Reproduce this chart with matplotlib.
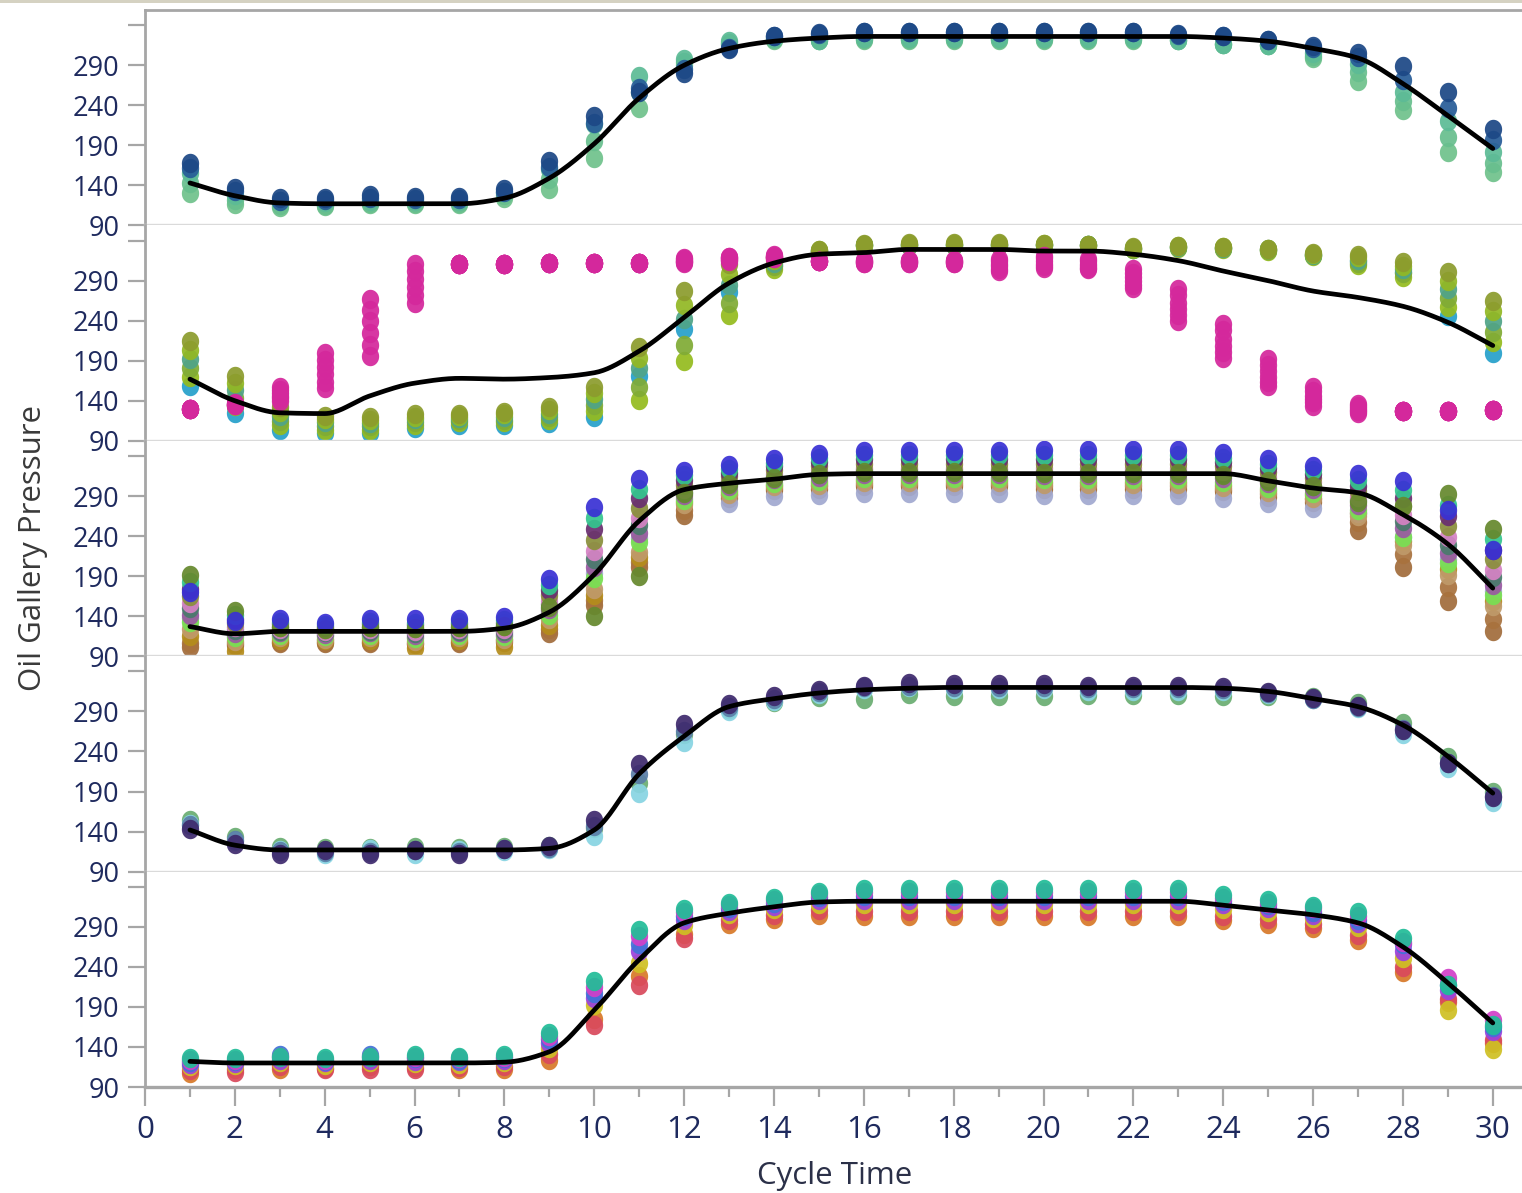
import numpy as np
import matplotlib
matplotlib.use('Agg')
import matplotlib.pyplot as plt
from matplotlib.ticker import FixedLocator
from matplotlib.patches import Rectangle
from matplotlib.path import Path

# ---------------- data ----------------
CYCLE_TIME = list(range(1, 31))
Y_TICKS = [90, 140, 190, 240, 290, 340]
Y_TICK_LABELS = ['90', '140', '190', '240', '290', '']
X_TICKS = list(range(0, 31, 2))
X_MINOR = list(range(1, 31, 2))
X_LABEL = 'Cycle Time'
Y_LABEL = 'Oil Gallery Pressure'

# panel 1
P1_NAVY_A = [168,137,124,124,128,126,126,136,170,227,257,280,310,327,330,332,332,332,332,332,332,332,329,327,322,314,305,289,257,211]
P1_NAVY_B = [162,133,121,122,124,123,123,132,163,218,262,285,312,326,329,331,331,331,331,331,331,331,328,326,321,312,300,272,237,197]
P1_GREEN_A = [155,128,120,119,120,120,120,132,161,217,277,298,320,324,322,324,324,324,324,324,324,324,322,317,315,305,292,257,220,182]
P1_GREEN_B = [143,122,116,116,118,118,118,128,148,195,256,294,318,323,322,323,323,323,323,323,323,323,322,317,315,302,281,245,200,168]
P1_GREEN_C = [131,117,113,114,117,117,117,124,136,174,236,290,316,322,322,322,322,322,322,322,322,322,322,317,315,299,270,234,182,157]
P1_FIT = [143,127,118,117,117,117,117,124,149,192,249,290,311,320,324,326,326,326,326,326,326,326,326,324,320,311,299,267,227,186]

# panel 2
P2_PINK_A = [130,137,157,200,267,311,311,311,312,312,312,318,320,322,314,316,316,316,317,321,317,305,280,236,192,157,136,127,127,128]
P2_PINK_B = [130,136,154,191,253,302,311,311,312,312,312,317,319,321,314,315,315,315,314,318,314,300,272,228,185,152,134,127,127,128]
P2_PINK_C = [130,136,150,182,239,292,311,311,312,312,312,315,318,320,314,314,314,314,311,314,311,294,262,217,177,146,131,127,127,128]
P2_PINK_D = [130,135,146,174,225,282,311,311,312,312,312,314,317,319,314,313,313,313,308,311,308,289,255,208,170,142,129,127,127,128]
P2_PINK_E = [130,135,143,164,210,272,311,311,312,312,312,313,316,318,314,312,312,312,305,308,306,285,247,201,164,138,127,127,127,128]
P2_PINK_F = [130,135,140,156,196,262,311,311,312,312,312,312,315,318,314,312,312,312,302,306,304,281,240,194,159,134,125,127,127,128]
P2_OLIVE = [215,171,132,121,120,124,124,126,132,157,207,277,311,320,328,336,337,337,337,336,335,332,333,332,330,324,322,313,301,265]
P2_LIME = [204,162,126,117,116,120,121,123,128,150,194,260,298,316,328,335,336,336,336,336,335,331,333,332,329,323,319,308,290,252]
P2_TEAL = [192,153,121,113,112,117,118,120,124,142,181,242,285,312,327,335,335,335,335,335,334,331,332,331,329,322,316,304,279,239]
P2_YELLOWGREEN = [181,143,115,108,108,113,116,116,120,135,157,210,262,308,327,334,335,335,335,335,334,330,332,331,328,322,312,299,268,226]
P2_BLUE = [158,125,104,100,100,106,110,110,112,120,171,229,276,310,327,334,335,335,335,335,334,330,332,331,328,322,314,301,246,200]
P2_LIME_B = [170,134,110,104,104,110,113,113,116,127,141,190,247,304,326,333,334,334,334,334,333,329,331,330,327,321,309,295,257,213]
P2_FIT = [167,140,125,124,146,162,168,167,169,175,202,244,287,312,323,325,329,329,329,327,327,323,315,302,290,277,269,258,238,209]

# panel 3
P3_BLUE = [170,134,136,132,136,136,136,139,186,276,311,321,329,336,342,346,346,346,346,347,347,347,347,344,336,328,317,309,272,223]
P3_OLIVE_GREEN = [192,146,127,124,127,125,127,128,152,140,190,294,305,313,317,320,320,320,320,319,319,319,319,316,309,302,282,277,292,249]
P3_TEAL = [183,141,133,129,133,132,133,135,179,262,299,316,324,331,337,341,341,341,341,341,341,341,341,338,330,323,310,298,279,236]
P3_PURPLE = [174,136,130,127,130,129,130,132,173,249,287,310,319,327,332,336,336,336,336,336,336,336,336,333,325,317,303,288,265,223]
P3_OLIVE = [165,131,127,124,127,125,127,128,166,235,275,304,315,322,327,330,330,330,330,330,330,330,330,327,320,312,296,277,252,211]
P3_PINK = [156,126,124,122,124,122,124,124,159,222,263,299,310,318,322,325,325,325,325,325,325,325,325,321,314,307,289,266,239,198]
P3_DARK_TEAL = [150,123,122,120,122,119,122,122,155,212,254,295,306,314,318,322,322,322,322,321,321,321,321,317,310,303,285,259,229,189]
P3_MAUVE = [142,119,120,118,120,116,120,119,149,201,244,291,303,311,314,317,317,317,317,316,316,316,316,313,306,299,279,250,219,179]
P3_LIME = [133,114,117,115,117,113,117,115,142,188,232,285,298,306,309,312,312,312,312,311,311,311,311,307,300,294,272,239,206,166]
P3_TAN = [124,109,114,112,114,109,114,111,136,174,220,280,293,302,304,307,307,307,307,305,305,305,305,301,295,288,265,229,192,153]
P3_LAVENDER = [138,117,118,116,118,114,118,117,146,194,238,288,281,290,291,294,294,294,294,291,291,291,291,287,281,275,269,239,212,172]
P3_BROWN = [102,104,106,106,106,105,106,108,119,154,202,266,288,297,299,302,302,302,302,299,299,299,299,296,289,283,248,202,159,121]
P3_BROWN_B = [106,106,108,108,108,107,108,110,124,160,208,272,291,300,302,305,305,305,305,302,302,302,302,299,292,286,258,218,176,137]
P3_GOLD = [115,97,110,110,110,100,110,102,129,167,214,282,295,304,306,310,310,310,310,308,308,308,308,304,297,291,269,234,199,159]
P3_FIT = [127,118,121,121,121,121,121,125,145,192,259,298,306,311,317,318,318,318,318,318,318,318,318,318,309,300,294,267,230,175]

# panel 4
P4_PURPLE = [143,124,112,117,112,117,112,118,122,155,224,274,299,309,317,322,326,324,324,324,322,322,322,321,314,307,297,267,225,183]
P4_SLATE = [148,129,116,115,115,117,115,118,120,147,212,266,296,306,314,320,322,321,321,321,319,319,319,318,313,306,296,268,226,184]
P4_CYAN = [150,128,117,112,118,112,117,116,118,135,188,252,290,303,312,318,320,318,318,318,316,316,316,315,312,305,294,262,219,177]
P4_GREEN = [155,133,121,119,120,121,120,121,122,145,201,262,293,302,308,306,312,309,309,309,310,310,310,309,309,308,300,275,233,190]
P4_FIT = [142,123,117,117,117,117,117,117,119,142,212,259,296,306,313,317,319,320,320,320,320,320,320,319,315,306,296,273,234,188]

# panel 5
P5_TEAL = [126,126,127,126,127,130,128,130,158,222,286,312,320,326,334,337,337,337,337,337,337,337,337,330,324,316,308,276,218,167]
P5_MAGENTA = [124,124,128,124,128,128,126,128,154,215,278,308,317,323,331,333,333,333,333,333,333,333,333,326,320,313,304,271,226,174]
P5_BLUE = [121,122,130,122,130,126,124,126,150,208,269,303,314,320,327,329,329,329,329,329,329,329,329,322,317,309,299,268,217,165]
P5_PURPLE = [119,120,124,121,124,123,122,124,145,201,260,298,310,316,323,324,324,324,324,324,324,324,324,318,313,305,295,260,211,160]
P5_YELLOW = [116,117,121,118,121,120,119,121,139,192,245,292,306,312,318,318,318,318,318,318,318,318,318,312,308,301,290,251,186,138]
P5_RED = [111,109,116,112,113,112,115,116,131,167,217,276,299,305,311,310,310,310,310,310,310,310,310,304,300,294,280,240,200,149]
P5_ORANGE = [107,112,113,114,116,115,112,113,124,175,229,281,294,300,305,303,303,303,303,303,303,303,303,298,294,288,273,234,196,145]
P5_FIT = [122,120,120,120,120,120,120,121,134,186,249,295,307,315,321,322,322,322,322,322,322,322,322,317,311,305,295,265,220,170]

PANEL_SERIES = [
    [(P1_GREEN_C, '#70c28c'), (P1_GREEN_B, '#68bf8e'), (P1_GREEN_A, '#5dbb96'),
     (P1_NAVY_B, '#285d98'), (P1_NAVY_A, '#1d4886')],
    [(P2_BLUE, '#27a0cb'), (P2_LIME_B, '#95bb1f'), (P2_YELLOWGREEN, '#80ab36'),
     (P2_TEAL, '#50a488'), (P2_LIME, '#92b824'), (P2_OLIVE, '#8c9c2e'),
     (P2_PINK_F, '#d4289c'), (P2_PINK_E, '#d4289c'), (P2_PINK_D, '#d4289c'),
     (P2_PINK_C, '#d4289c'), (P2_PINK_B, '#d4289c'), (P2_PINK_A, '#d4289c')],
    [(P3_BROWN, '#a26d3c'), (P3_BROWN_B, '#a8723e'), (P3_GOLD, '#b48c1c'),
     (P3_LAVENDER, '#a2a9d0'), (P3_TAN, '#bf9a6a'), (P3_LIME, '#78e052'),
     (P3_MAUVE, '#9a5aa2'), (P3_DARK_TEAL, '#4a7a6c'), (P3_PINK, '#d582c4'),
     (P3_OLIVE, '#8a8f3c'), (P3_PURPLE, '#6a2f70'), (P3_TEAL, '#34c58e'),
     (P3_OLIVE_GREEN, '#66892e'), (P3_BLUE, '#3a31d4')],
    [(P4_GREEN, '#6aad72'), (P4_CYAN, '#88d4e2'), (P4_SLATE, '#5b7fa8'),
     (P4_PURPLE, '#3f2b6e')],
    [(P5_ORANGE, '#d87a2a'), (P5_RED, '#d94a5c'), (P5_YELLOW, '#cfc024'),
     (P5_PURPLE, '#9c42dc'), (P5_BLUE, '#4172d8'), (P5_MAGENTA, '#d140c8'),
     (P5_TEAL, '#22bd98')],
]
PANEL_FITS = [P1_FIT, P2_FIT, P3_FIT, P4_FIT, P5_FIT]


def pchip(x, y, xs):
    x = np.asarray(x, float)
    y = np.asarray(y, float)
    h = np.diff(x)
    d = np.diff(y) / h
    m = np.zeros_like(y)
    for k in range(1, len(y) - 1):
        if d[k - 1] * d[k] > 0:
            w1 = 2 * h[k] + h[k - 1]
            w2 = h[k] + 2 * h[k - 1]
            m[k] = (w1 + w2) / (w1 / d[k - 1] + w2 / d[k])
    m[0] = d[0]
    m[-1] = d[-1]
    idx = np.clip(np.searchsorted(x, xs) - 1, 0, len(h) - 1)
    t = (xs - x[idx]) / h[idx]
    h00 = 2 * t**3 - 3 * t**2 + 1
    h10 = t**3 - 2 * t**2 + t
    h01 = -2 * t**3 + 3 * t**2
    h11 = t**3 - t**2
    return h00 * y[idx] + h10 * h[idx] * m[idx] + h01 * y[idx + 1] + h11 * h[idx] * m[idx + 1]


# slightly tall elliptical dot, like the reference
_th = np.linspace(0, 2 * np.pi, 41)
ELLIPSE = Path(np.column_stack([0.89 * np.cos(_th), np.sin(_th)]), closed=True)

# ---------------- figure ----------------
W, H = 1522, 1193
fig = plt.figure(figsize=(W / 100, H / 100), dpi=100)
fig.patch.set_facecolor('white')
FONT = ['Open Sans', 'DejaVu Sans']
TICK_COLOR = '#1e2a5e'
SPINE = '#a6a6a6'
SEP = '#dadada'

left, right = 145 / W, 1.0
top, bottom = 1 - 10 / H, 1 - 1087 / H
axes = fig.subplots(5, 1, sharex=True,
                    gridspec_kw=dict(left=left, right=right, top=top, bottom=bottom, hspace=0))

xs = np.linspace(1, 30, 600)
for i, ax in enumerate(axes):
    for vals, col in PANEL_SERIES[i]:
        ax.plot(CYCLE_TIME, vals, linestyle='none', marker=ELLIPSE, markersize=14,
                markeredgewidth=0, color=col, alpha=0.93, zorder=2)
    ax.plot(xs, pchip(CYCLE_TIME, PANEL_FITS[i], xs), color='black', lw=3.4,
            solid_capstyle='round', zorder=5)
    ax.set_ylim(90, 359)
    ax.set_xlim(0, 30.65)
    ax.yaxis.set_major_locator(FixedLocator(Y_TICKS))
    ax.set_yticklabels(Y_TICK_LABELS, fontfamily=FONT, fontsize=19.5, color=TICK_COLOR)
    ax.tick_params(axis='y', which='major', length=12.5, width=1.6, color=SPINE, pad=6)
    ax.spines['right'].set_visible(False)
    ax.spines['left'].set_color(SPINE)
    ax.spines['left'].set_linewidth(2.0)
    ax.spines['top'].set_visible(i == 0)
    ax.spines['top'].set_color(SPINE)
    ax.spines['top'].set_linewidth(2.0)
    if i < 4:
        ax.spines['bottom'].set_color(SEP)
        ax.spines['bottom'].set_linewidth(2.4)
        ax.tick_params(axis='x', which='both', length=0, labelbottom=False)
    else:
        ax.spines['bottom'].set_color(SPINE)
        ax.spines['bottom'].set_linewidth(2.4)
    ax.set_facecolor('white')

axb = axes[-1]
axb.xaxis.set_major_locator(FixedLocator(X_TICKS))
axb.xaxis.set_minor_locator(FixedLocator(X_MINOR))
axb.set_xticklabels([str(v) for v in X_TICKS], fontfamily=FONT, fontsize=22.5, color=TICK_COLOR)
axb.tick_params(axis='x', which='major', length=13.5, width=1.6, color=SPINE, pad=7)
axb.tick_params(axis='x', which='minor', length=7.2, width=1.6, color=SPINE)

fig.text(835 / W, 1 - 1176 / H, X_LABEL, ha='center', va='center',
         fontfamily=FONT, fontsize=22.5, color='#2b3048')
fig.text(33 / W, 1 - 548 / H, Y_LABEL, ha='center', va='center', rotation=90,
         fontfamily=FONT, fontsize=22.5, color='#3a3a3a')

fig.patches.append(Rectangle((0, 1 - 3 / H), 1, 3 / H, transform=fig.transFigure,
                             facecolor='#d5d2c2', edgecolor='none', zorder=10))

fig.savefig('out.png', dpi=100, facecolor='white')
